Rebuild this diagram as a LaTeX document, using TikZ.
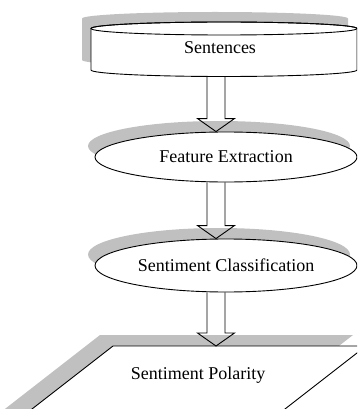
\documentclass[tikz,border=0pt]{standalone}
\usepackage{fontspec}
\setmainfont{Liberation Serif}
\usetikzlibrary{shapes.geometric, shadows, calc}

\definecolor{shadowgray}{RGB}{192,192,192}

% hollow block arrow going straight down from #1 to #2
\newcommand{\blockarrow}[2]{%
  \draw[hollow] let \p1=(#1), \p2=(#2) in
    (\x1-9pt,\y1) -- (\x1-9pt,\y2+13pt) -- (\x1-18.5pt,\y2+13pt) -- (\x1,\y2)
    -- (\x1+18.5pt,\y2+13pt) -- (\x1+9pt,\y2+13pt) -- (\x1+9pt,\y1);}

\begin{document}
\begin{tikzpicture}[
    x=1pt, y=-1pt,
    outline/.style={draw, line width=0.9pt, fill=white},
    stage/.style={ellipse, outline, minimum width=262pt, inner sep=0pt, font=\fontsize{18}{21}\selectfont,
      general shadow={fill=shadowgray, shadow xshift=-7pt, shadow yshift=11pt}},
    txt/.style={font=\fontsize{18}{21}\selectfont, inner sep=0pt},
    hollow/.style={draw, line width=0.9pt},
  ]
    \useasboundingbox (0,0) rectangle (357,409);
    \clip (0,0) rectangle (357,409);

    \coordinate (spine) at (216,0);

    % Sentences (cylinder)
    \fill[shadowgray, shift={(-9,-10)}] (91,70) -- (91,28.5) arc[start angle=180, end angle=0, x radius=133pt, y radius=6.5pt]
      -- (357,70) arc[start angle=0, end angle=-180, x radius=133pt, y radius=6.5pt] -- cycle;
    \draw[outline] (91,70) -- (91,28.5) arc[start angle=180, end angle=0, x radius=133pt, y radius=6.5pt]
      -- (357,70) arc[start angle=0, end angle=-180, x radius=133pt, y radius=6.5pt] -- cycle;
    \draw[line width=0.9pt] (224,28.5) ellipse[x radius=133pt, y radius=6.5pt];
    \coordinate (cylbot) at (216,76.5);
    \node[txt] (sent) at (220,48) {Sentences};

    % Feature Extraction
    \node[stage, minimum height=50pt] (feat) at (226,157) {Feature Extraction};

    % Sentiment Classification
    \node[stage, minimum height=53pt] (class) at (226,265.5) {Sentiment Classification};

    % Sentiment Polarity (parallelogram)
    \fill[shadowgray, shift={(-13,-11)}] (113,346) -- (366,346) -- (258,430) -- (5,430) -- cycle;
    \draw[outline] (113,346) -- (366,346) -- (258,430) -- (5,430) -- cycle;
    \coordinate (paratop) at (216,346);
    \node[txt] (polar) at (198,375) {Sentiment Polarity};

    % Arrows
    \blockarrow{cylbot}{feat.north -| spine}
    \blockarrow{feat.south -| spine}{class.north -| spine}
    \blockarrow{class.south -| spine}{paratop}
\end{tikzpicture}
\end{document}
